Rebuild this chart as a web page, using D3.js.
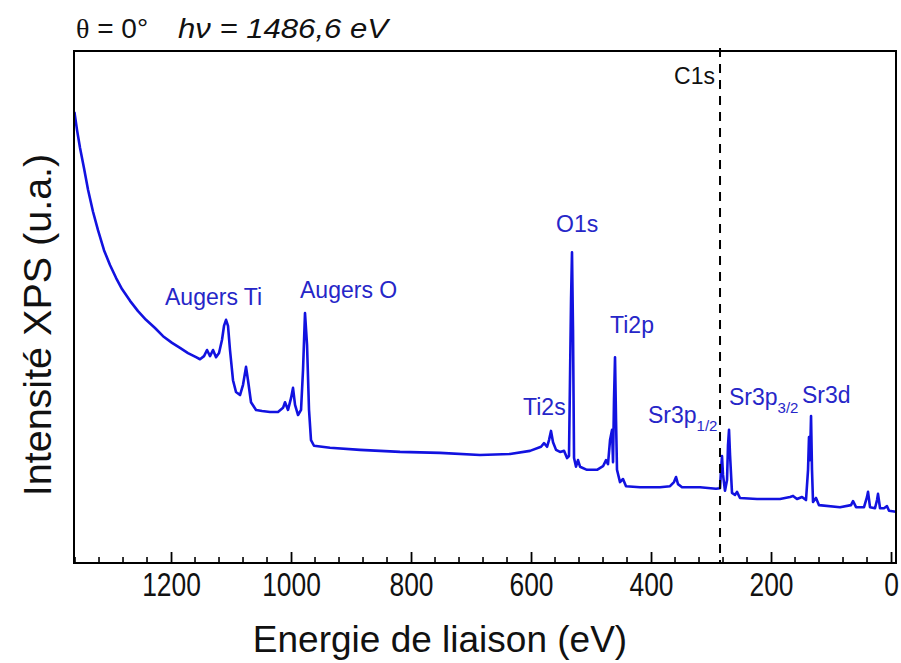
<!DOCTYPE html>
<html><head><meta charset="utf-8">
<script src="https://cdn.jsdelivr.net/npm/d3@7"></script>
<style>
html,body{margin:0;padding:0;background:#fff;}
svg{display:block;font-family:Arial,"Liberation Sans",sans-serif;}
</style></head>
<body><svg id="chart" width="901" height="663"></svg>
<script>
// Binding energy (eV) of the survey spectrum
const energies = [1361,1356.7,1351.7,1345,1338.3,1330,1321.7,1311.7,1301.7,1291.7,1281.7,1268.3,1255,1241.7,1226.7,1213.3,1198.3,1185,1171.7,1158.3,1151.7,1145,1140,1135,1130,1125,1120,1115,1111.7,1108.3,1105,1101.7,1096.7,1091.7,1085,1080,1075,1071.7,1066.7,1058.3,1048.3,1035,1021.7,1013.3,1010,1005,1000,996.7,993.3,988.3,983.3,980,976.7,973.3,970,966.7,961.7,935,885,818.3,751.7,685,635,601.7,583.3,578.3,573.3,570,566.7,563.3,558.3,551.7,545,540,536.7,533.3,531.7,530,528.3,525,521.7,518.3,506.7,490,480,475,471.7,468.3,465,463.3,461.7,460,458.3,456.7,451.7,446.7,441.7,418.3,385,368.3,361.7,358.3,355,348.3,318.3,291.7,285,283.3,281.7,280,276.7,273.3,271.7,270,268.3,265,260,256.7,251.7,223.3,185,168.3,163.3,156.7,148.3,141.7,138.3,136.7,135,133.3,131.7,130,125,120,85,66.7,63.3,58.3,45,40,38.3,35,26.7,23.3,21.7,18.3,11.7,6.7,3.3,-8];
// XPS intensity (arb. units)
const intensities = [88.1,84.6,81.1,77.1,72.9,68.6,65.0,61.1,58.2,55.7,53.5,51.2,49.2,47.5,45.9,44.3,43.0,42.0,41.0,40.2,39.8,40.4,41.6,40.4,41.6,40.2,41.0,43.6,46.3,47.5,46.3,41.6,35.7,33.4,32.8,34.8,38.3,35.7,31.4,29.9,29.7,29.5,29.5,30.3,31.4,29.9,32.2,34.2,30.9,28.9,29.9,37.7,48.8,42.6,29.9,24.0,22.9,22.5,22.1,21.7,21.5,21.1,21.3,21.9,22.7,23.4,22.7,24.0,25.8,23.6,22.1,21.7,21.9,20.5,20.9,51.4,60.7,45.5,20.5,18.8,20.1,18.8,18.2,18.2,18.9,20.1,19.3,24.0,26.0,19.7,31.8,40.2,27.9,18.2,15.8,16.4,15.0,14.8,14.8,15.0,15.8,16.8,15.4,14.8,14.8,14.5,14.6,18.2,20.9,17.2,14.1,16.2,23.0,26.0,21.1,13.7,13.3,13.9,12.7,12.5,12.5,12.9,13.1,12.5,12.9,12.3,18.2,24.6,20.1,28.7,18.2,11.9,12.7,11.3,10.9,11.3,12.1,10.9,10.9,12.9,13.9,10.9,10.7,12.3,13.5,10.7,10.7,11.1,10.2,10.0];
const xTicks = [1200,1000,800,600,400,200,0];
const labelTexts = ["Augers Ti","Augers O","O1s","Ti2p","Ti2s","Sr3p","Sr3p","Sr3d"];
const labelSubs  = ["","","","","","1/2","3/2",""];
const labelEnergies = [1210,985,558.3,468.3,613.3,405,270,148.3];
const labelIntensities = [50.4,51.8,64.6,44.9,28.9,27.3,30.9,31.3];
const c1sEnergy = 285;
const titleParts = ["θ"," = 0°","hν = 1486,6 eV"];
const xTitle = "Energie de liaison (eV)";
const yTitle = "Intensité XPS (u.a.)";

const svg = d3.select("#chart");
const L=74, R=896, T=51, B=563;
const x = d3.scaleLinear().domain([1361.7,-8.3]).range([L,R]);
const y = d3.scaleLinear().domain([0,100]).range([B,T]);
const blue = "#1212e0", lblBlue = "#2626c8";

// spectrum
const data = energies.map((e,i)=>[e,intensities[i]]);
svg.append("path").datum(data)
  .attr("fill","none").attr("stroke",blue).attr("stroke-width",2.6)
  .attr("stroke-linejoin","round")
  .attr("d", d3.line().x(d=>x(d[0])).y(d=>y(d[1])));

// C1s dashed line
svg.append("line").attr("x1",x(c1sEnergy)).attr("x2",x(c1sEnergy))
  .attr("y1",T-3).attr("y2",B).attr("stroke","#000").attr("stroke-width",2)
  .attr("stroke-dasharray","9,7");
svg.append("text").attr("x",x(c1sEnergy)-5).attr("y",84).attr("text-anchor","end")
  .attr("font-size",23).attr("fill","#111").text("C1s");

// frame
svg.append("rect").attr("x",L).attr("y",T).attr("width",R-L).attr("height",B-T)
  .attr("fill","none").attr("stroke","#000").attr("stroke-width",2);

// bottom axis ticks (inward)
const minor = d3.range(1360,-1,-40).filter(v=>v%200!==0);
const axisG = svg.append("g").attr("transform",`translate(0,${B})`);
axisG.selectAll("line.minor").data(minor).join("line")
  .attr("x1",d=>x(d)).attr("x2",d=>x(d)).attr("y1",0).attr("y2",-6)
  .attr("stroke","#000").attr("stroke-width",1.6);
axisG.call(d3.axisBottom(x).tickValues(xTicks).tickSizeInner(-11).tickSizeOuter(0).tickPadding(12).tickFormat(d3.format("d")))
  .call(g=>g.select(".domain").remove())
  .call(g=>g.selectAll(".tick line").attr("stroke","#000").attr("stroke-width",1.8))
  .call(g=>g.selectAll(".tick text").attr("font-size",33).attr("fill","#111")
      .attr("font-family","Arial,'Liberation Sans',sans-serif").attr("dy","0.71em").attr("y",10)
      .attr("transform","scale(0.8,1)"));

// axis titles
svg.append("text").attr("x",440).attr("y",652).attr("text-anchor","middle")
  .attr("font-size",37).attr("fill","#111").text(xTitle);
svg.append("text").attr("transform","translate(51,325) rotate(-90)").attr("text-anchor","middle")
  .attr("font-size",39.5).attr("fill","#111").text(yTitle);

// title
const tt = svg.append("text").attr("y",38).attr("font-size",28).attr("fill","#111");
tt.append("tspan").attr("x",76).attr("font-family","'Liberation Serif','DejaVu Serif',serif").text(titleParts[0]);
tt.append("tspan").text(titleParts[1]);
tt.append("tspan").attr("x",178).attr("font-style","italic")
  .attr("textLength",210).attr("lengthAdjust","spacingAndGlyphs").text(titleParts[2]);

// peak labels
labelTexts.forEach((t,i)=>{
  const te = svg.append("text").attr("x",x(labelEnergies[i])).attr("y",y(labelIntensities[i]))
    .attr("font-size",23).attr("fill",lblBlue).text(t);
  if(labelSubs[i]) te.append("tspan").attr("font-size",15).attr("dy",8).text(labelSubs[i]);
});
</script></body></html>
